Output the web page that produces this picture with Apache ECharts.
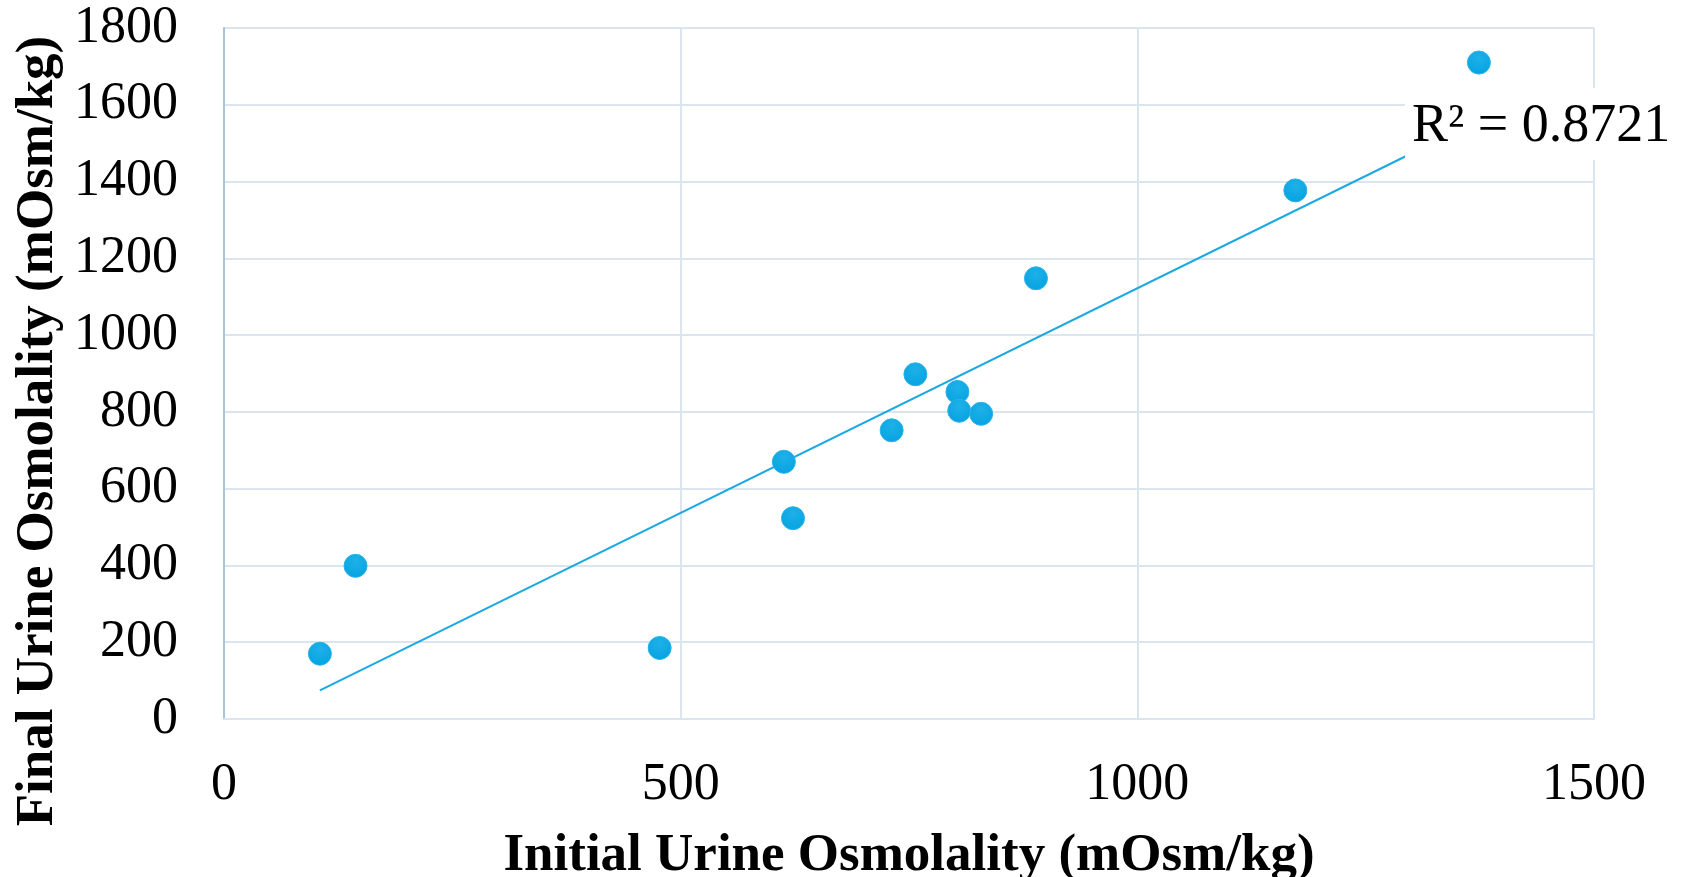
<!DOCTYPE html>
<html>
<head>
<meta charset="utf-8">
<script src="https://cdn.jsdelivr.net/npm/echarts@6/dist/echarts.min.js"></script>
<style>
  html, body { margin: 0; padding: 0; background: #fff; }
  #chart { width: 1684px; height: 877px; }
</style>
</head>
<body>
<div id="chart"></div>
<script>
// Initial vs final urine osmolality (mOsm/kg), one point per subject
const initialOsm = [105, 144, 477, 613, 623, 731, 757, 803, 805, 829, 889, 1173, 1374];
const finalOsm   = [170, 399, 185, 670, 523, 752, 898, 852, 803, 795, 1148, 1377, 1710];

const xTicks = [0, 500, 1000, 1500];
const yTicks = [0, 200, 400, 600, 800, 1000, 1200, 1400, 1600, 1800];

const xTitle = 'Initial Urine Osmolality (mOsm/kg)';
const yTitle = 'Final Urine Osmolality (mOsm/kg)';
const r2Text = 'R\u00B2 = 0.8721';

// Least-squares linear trendline over the data range
function linearFit(xs, ys) {
  const n = xs.length;
  const mx = xs.reduce((a, b) => a + b, 0) / n;
  const my = ys.reduce((a, b) => a + b, 0) / n;
  let sxy = 0, sxx = 0;
  for (let i = 0; i < n; i++) {
    sxy += (xs[i] - mx) * (ys[i] - my);
    sxx += (xs[i] - mx) * (xs[i] - mx);
  }
  const slope = sxy / sxx;
  return { slope, intercept: my - slope * mx };
}
const fit = linearFit(initialOsm, finalOsm);
const xMin = Math.min(...initialOsm), xMax = Math.max(...initialOsm);
const trend = [
  [xMin, fit.intercept + fit.slope * xMin],
  [xMax, fit.intercept + fit.slope * xMax]
];

const points = initialOsm.map((x, i) => [x, finalOsm[i]]);

const serif = '"Liberation Serif", "Times New Roman", serif';
const gridColor = '#dae5ef';
const plainNumber = v => String(v);

const chart = echarts.init(document.getElementById('chart'), null, { renderer: 'canvas' });
chart.setOption({
  animation: false,
  backgroundColor: '#ffffff',
  grid: { left: 224, right: 90, top: 28, bottom: 158 },
  xAxis: {
    type: 'value',
    min: xTicks[0], max: xTicks[xTicks.length - 1], interval: 500,
    axisLine: { show: true, lineStyle: { color: gridColor, width: 2 } },
    axisTick: { show: false },
    axisLabel: { color: '#000', fontFamily: serif, fontSize: 52, margin: 40, formatter: plainNumber },
    splitLine: { show: true, lineStyle: { color: gridColor, width: 2 } }
  },
  yAxis: {
    type: 'value',
    min: yTicks[0], max: yTicks[yTicks.length - 1], interval: 200,
    axisLine: { show: true, lineStyle: { color: '#a8c4dc', width: 2 } },
    axisTick: { show: false },
    axisLabel: { color: '#000', fontFamily: serif, fontSize: 52, margin: 46, formatter: plainNumber },
    splitLine: { show: true, lineStyle: { color: gridColor, width: 2 } }
  },
  series: [
    {
      type: 'line',
      data: trend,
      showSymbol: false,
      symbol: 'none',
      lineStyle: { color: '#1ca9e2', width: 2 },
      z: 2,
      silent: true
    },
    {
      type: 'scatter',
      data: points,
      symbolSize: 23,
      itemStyle: {
        color: new echarts.graphic.RadialGradient(0.5, 0.3, 0.75, [
          { offset: 0, color: '#1fb0e9' },
          { offset: 1, color: '#03a3e0' }
        ]),
        borderColor: '#2ab3e9',
        borderWidth: 1,
        opacity: 1
      },
      z: 3
    }
  ],
  graphic: [
    {
      type: 'rect',
      shape: { x: 1405, y: 88, width: 279, height: 72 },
      style: { fill: '#ffffff' },
      z: 100
    },
    {
      type: 'text',
      x: 1412, y: 127,
      style: {
        text: r2Text,
        font: '54px ' + serif,
        fill: '#000',
        textAlign: 'left',
        textVerticalAlign: 'middle'
      },
      z: 101
    },
    {
      type: 'text',
      x: 909, y: 856,
      style: {
        text: xTitle,
        font: 'bold 53px ' + serif,
        fill: '#000',
        textAlign: 'center',
        textVerticalAlign: 'middle'
      },
      z: 101
    },
    {
      type: 'text',
      x: 38, y: 431,
      rotation: Math.PI / 2,
      style: {
        text: yTitle,
        font: 'bold 53px ' + serif,
        fill: '#000',
        textAlign: 'center',
        textVerticalAlign: 'middle'
      },
      z: 101
    }
  ]
});
</script>
</body>
</html>
